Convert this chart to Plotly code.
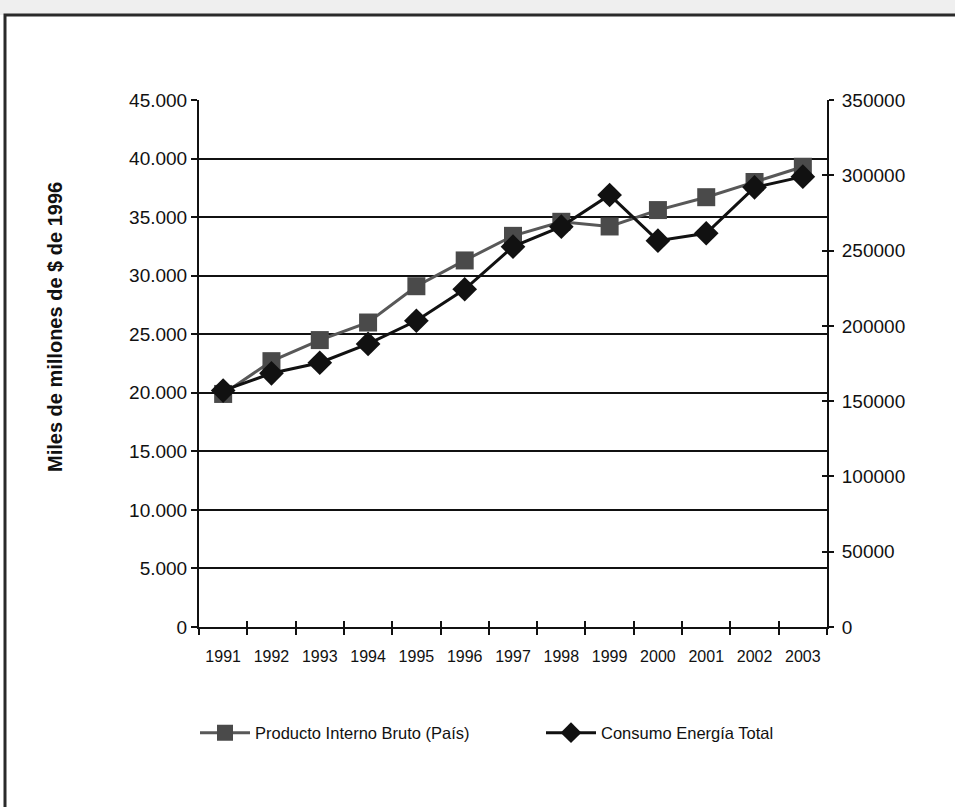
import plotly.graph_objects as go

years = ["1991", "1992", "1993", "1994", "1995", "1996", "1997",
         "1998", "1999", "2000", "2001", "2002", "2003"]
pib = [19900, 22700, 24500, 26000, 29100, 31300, 33400,
       34600, 34200, 35600, 36700, 38000, 39300]
energia = [157000, 168500, 175500, 188000, 203400, 224300, 252600,
           265900, 286900, 256600, 261500, 292000, 299100]

left_ticks = list(range(0, 45001, 5000))
right_ticks = list(range(0, 350001, 50000))

FONT = "Liberation Sans, Arial, sans-serif"

PX0, PX1, PY0, PY1 = 199, 827, 100, 627  # plot area in page px
PW, PH = PX1 - PX0, PY1 - PY0
W, H = 955, 807
L, T = PX0, PY0
R, B = W - PX1, H - PY1


def fx(px):
    return (px - PX0) / PW


def fy(py):
    return (PY1 - py) / PH


fig = go.Figure()
fig.add_trace(go.Scatter(
    x=years, y=pib, name="Producto Interno Bruto (País)",
    mode="lines+markers",
    line=dict(color="#585858", width=3),
    marker=dict(symbol="square", size=18, color="#4a4a4a"),
    yaxis="y", xaxis="x", legend="legend"))
fig.add_trace(go.Scatter(
    x=years, y=energia, name="Consumo Energía Total",
    mode="lines+markers",
    line=dict(color="#111111", width=3),
    marker=dict(symbol="diamond", size=19, color="#111111"),
    yaxis="y2", xaxis="x", legend="legend2"))

leg_common = dict(orientation="h", xanchor="left", yanchor="middle",
                  font=dict(size=16.5, family=FONT, color="#111111"),
                  itemwidth=50, bgcolor="rgba(0,0,0,0)")

fig.update_layout(
    width=W, height=H,
    margin=dict(l=L, r=R, t=T, b=B, pad=0),
    paper_bgcolor="white", plot_bgcolor="rgba(0,0,0,0)",
    separators=",.",
    font=dict(family=FONT, color="#111111"),
    showlegend=True,
    legend=dict(x=fx(195), y=fy(733), **leg_common),
    legend2=dict(x=fx(541), y=fy(733), **leg_common),
    xaxis=dict(type="category", tickson="boundaries", range=[-0.5, 12.5],
               showline=True, linecolor="#111111", linewidth=2,
               ticks="outside", ticklen=6, tickwidth=2, tickcolor="#111111",
               showgrid=False, zeroline=False,
               tickfont=dict(size=16, family=FONT, color="#111111"),
               ticklabelstandoff=14),
    xaxis2=dict(overlaying="x", range=[0, 13], tickvals=list(range(14)),
                ticks="inside", ticklen=6, tickwidth=2, tickcolor="#111111",
                showticklabels=False, showgrid=False, showline=False,
                zeroline=False, anchor="y", side="bottom"),
    yaxis=dict(range=[0, 45000], tickvals=left_ticks, tickformat=",d",
               showline=True, linecolor="#111111", linewidth=2,
               ticks="outside", ticklen=6, tickwidth=2, tickcolor="#111111",
               showgrid=True, gridcolor="#111111", gridwidth=2,
               zeroline=False,
               tickfont=dict(size=19, family=FONT, color="#111111")),
    yaxis2=dict(range=[0, 350000], tickvals=right_ticks, tickformat="d",
                overlaying="y", side="right", anchor="x",
                showline=True, linecolor="#111111", linewidth=2,
                ticks="outside", ticklen=5, tickwidth=2, tickcolor="#111111",
                showgrid=False, zeroline=False,
                tickfont=dict(size=19, family=FONT, color="#111111"),
                ticklabelstandoff=4),
    yaxis3=dict(range=[0, 350000], tickvals=right_ticks,
                overlaying="y", side="right", anchor="x",
                ticks="inside", ticklen=5, tickwidth=2, tickcolor="#111111",
                showticklabels=False, showgrid=False, showline=False,
                zeroline=False),
)

# invisible traces to activate the helper axes
fig.add_trace(go.Scatter(x=[0], y=[0], xaxis="x2", yaxis="y", mode="markers",
                         marker=dict(opacity=0), showlegend=False, hoverinfo="skip"))
fig.add_trace(go.Scatter(x=["1991"], y=[0], xaxis="x", yaxis="y3", mode="markers",
                         marker=dict(opacity=0), showlegend=False, hoverinfo="skip"))

# y-axis title
fig.add_annotation(text="<b>Miles de millones de $ de 1996</b>",
                   xref="paper", yref="paper",
                   x=fx(55), y=fy(327),
                   xanchor="center", yanchor="middle", textangle=-90,
                   showarrow=False,
                   font=dict(size=20, family=FONT, color="#111111"))

# background strip and outer frame
fig.add_shape(type="rect", xref="paper", yref="paper",
              x0=fx(0), x1=fx(960), y0=fy(15), y1=fy(0),
              fillcolor="#efefef", line=dict(width=0), layer="below")
fig.add_shape(type="rect", xref="paper", yref="paper",
              x0=fx(5), x1=fx(970), y0=fy(820), y1=fy(15),
              fillcolor="rgba(0,0,0,0)", line=dict(color="#2a2a2a", width=3),
              layer="below")

fig.write_html("out.html",
               config={"displayModeBar": False},
               post_script="document.body.style.margin='0';"
                           "document.body.style.overflow='hidden';")
